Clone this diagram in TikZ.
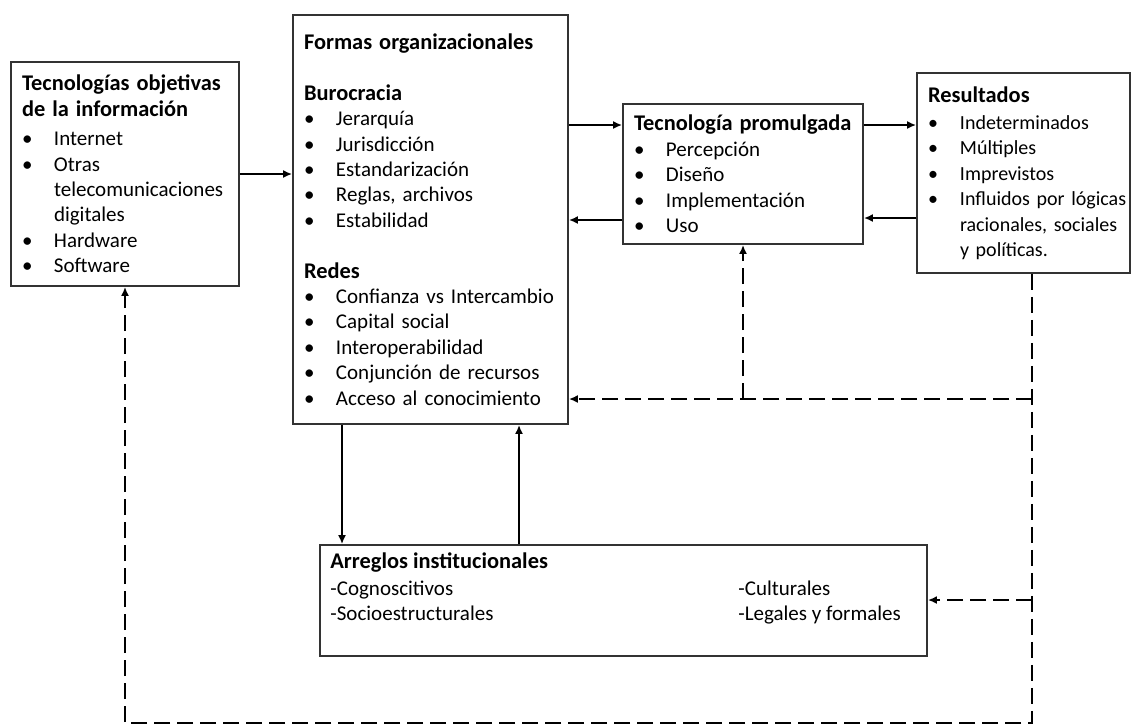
\documentclass[tikz,border=0pt]{standalone}
\usepackage{fontspec}
\setmainfont{Carlito}
\usetikzlibrary{arrows.meta,positioning}

\newcommand{\bul}{\makebox[16pt][l]{\textbullet}}
\newcommand{\ind}{\hspace*{16pt}}
\newcommand{\ttl}[1]{{\fontsize{11.2pt}{12.7pt}\selectfont\bfseries #1}}

\begin{document}
\begin{tikzpicture}
      [x=0.5pt, y=-0.5pt,
       font=\fontsize{10.5pt}{12.7pt}\selectfont,
       box/.style={rectangle,draw=black!80,line width=0.9pt,align=left,inner xsep=5.5pt,inner ysep=0pt},
       arr/.style={-{Latex[length=4.5pt,width=4pt]},line width=0.9pt},
       darr/.style={arr,dash pattern=on 8pt off 3.5pt}]
      \useasboundingbox (0,0) rectangle (1133,724);

      \node (tec) at (125,174) [box,text width=103pt,minimum height=112pt]
        {\ttl{Tecnologías objetivas}\\ \ttl{de la información}\\[2pt]
         \bul Internet\\ \bul Otras\\ \ind telecomunicaciones\\ \ind digitales\\
         \bul Hardware\\ \bul Software};

      \node (formas) at (430.5,219.5) [box,text width=126.5pt,minimum height=204.5pt]
        {\ttl{Formas organizacionales}\\[12.7pt]
         \ttl{Burocracia}\\ \bul Jerarquía\\ \bul Jurisdicción\\ \bul Estandarización\\
         \bul Reglas, archivos\\ \bul Estabilidad\\[12.7pt]
         \ttl{Redes}\\ \bul Confianza vs Intercambio\\ \bul Capital social\\
         \bul Interoperabilidad\\ \bul Conjunción de recursos\\ \bul Acceso al conocimiento};

      \node (tp) at (743,174) [box,text width=109pt,minimum height=70pt]
        {\ttl{Tecnología promulgada}\\ \bul Percepción\\ \bul Diseño\\
         \bul Implementación\\ \bul Uso};

      \node (res) at (1023.5,173) [box,text width=95.5pt,minimum height=100pt,
                                   font=\fontsize{10pt}{12.7pt}\selectfont]
        {\ttl{Resultados}\\[1pt] \bul Indeterminados\\ \bul Múltiples\\ \bul Imprevistos\\
         \bul\mbox{Influidos por lógicas}\\ \ind\mbox{racionales, sociales}\\ \ind\mbox{y políticas.}};

      \node (inst) at (623.5,600.5) [box,minimum width=303.5pt,minimum height=55.5pt] {};
      \node (insttxt) at (330,552) [anchor=north west,align=left,inner sep=0pt]
        {\ttl{Arreglos institucionales}\\[1pt]
         \makebox[204pt][l]{-Cognoscitivos}-Culturales\\
         \makebox[204pt][l]{-Socioestructurales}-Legales y formales};

      % solid links
      \draw[arr] (tec.east) -- (tec.east -| formas.west);
      \draw[arr] (formas.east |- 0,125) -- (tp.west |- 0,125);
      \draw[arr] (tp.east |- 0,125) -- (res.west |- 0,125);
      \draw[arr] (res.west |- 0,218) -- (tp.east |- 0,218);
      \draw[arr] (tp.west |- 0,220) -- (formas.east |- 0,220);
      \draw[arr] (342,0 |- formas.south) -- (342,0 |- inst.north);
      \draw[arr] (519,0 |- inst.north) -- (519,0 |- formas.south);

      % dashed feedback
      \coordinate (rdown) at (1032,723);
      \coordinate (ldown) at (125,723);
      \coordinate (jfor) at (1032,399);
      \coordinate (jinst) at (1032,600);
      \draw[darr] (res.south -| rdown) -- (rdown) -- (ldown) -- (tec.south);
      \draw[darr] (jfor) -- (jfor -| formas.east);
      \draw[darr] (tp.south |- jfor) -- (tp.south);
      \draw[darr] (jinst) -- (jinst -| inst.east);
\end{tikzpicture}
\end{document}
